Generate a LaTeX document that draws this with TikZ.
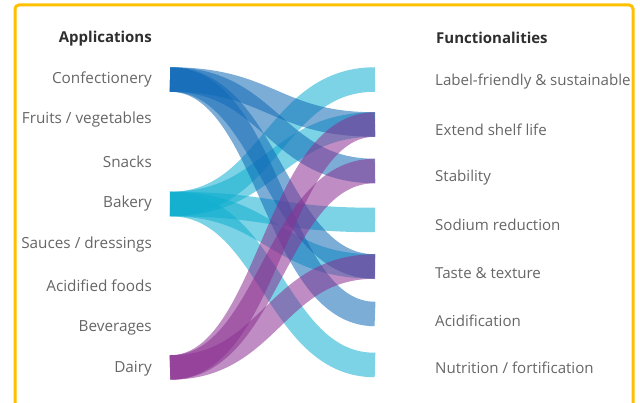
\documentclass[tikz,border=0pt]{standalone}
\usepackage{fontspec}
\setmainfont{Open Sans}
\begin{document}
\definecolor{frameyellow}{HTML}{FFC000}
\definecolor{labelgray}{HTML}{666666}
\definecolor{titlegray}{HTML}{2E2E2E}
\definecolor{confblue}{HTML}{1069B6}
\definecolor{bakecyan}{HTML}{10AECF}
\definecolor{dairypurple}{HTML}{8A3091}
\begin{tikzpicture}[x=1pt,y=-1pt,
  applabel/.style={anchor=east,text=labelgray,font=\fontsize{15.3}{17}\selectfont,inner sep=0},
  funclabel/.style={anchor=west,text=labelgray,font=\fontsize{15.1}{17}\selectfont,inner sep=0},
  headlabel/.style={text=titlegray,font=\bfseries\fontsize{15}{17}\selectfont,inner sep=0},
  endpoint/.style={inner sep=0,minimum size=0,anchor=center},
  band/.style={draw=#1,draw opacity=.55,line width=24.5pt,line cap=butt}]
\useasboundingbox (0,0) rectangle (640,403);

% frame
\draw[frameyellow,line width=3pt,rounded corners=4pt]
  (15,410) -- (15,5) -- (633,5) -- (633,410);

% column headings
\node[headlabel,anchor=east] (happ) at (152,38.5) {Applications};
\node[headlabel,anchor=west] (hfun) at (436,38)   {Functionalities};

% applications
\node[applabel] (lconf)  at (152,79)  {Confectionery};
\node[applabel] (lfruit) at (152,120) {Fruits / vegetables};
\node[applabel] (lsnack) at (152,162) {Snacks};
\node[applabel] (lbake)  at (152,204) {Bakery};
\node[applabel] (lsauce) at (152,245) {Sauces / dressings};
\node[applabel] (lacidf) at (152,286) {Acidified foods};
\node[applabel] (lbev)   at (152,328) {Beverages};
\node[applabel] (ldairy) at (152,369) {Dairy};

% functionalities
\node[funclabel] (flabel) at (435,82)  {Label-friendly \& sustainable};
\node[funclabel] (fshelf) at (435,130) {Extend shelf life};
\node[funclabel] (fstab)  at (435,178) {Stability};
\node[funclabel] (fsod)   at (435,225) {Sodium reduction};
\node[funclabel] (ftaste) at (435,273) {Taste \& texture};
\node[funclabel] (facid)  at (435,321) {Acidification};
\node[funclabel] (fnutr)  at (435,368) {Nutrition / fortification};

% band ends
\node[endpoint] (sconf)  at (170,79.5)  {};
\node[endpoint] (sbake)  at (170,204)   {};
\node[endpoint] (sdairy) at (170,367.5) {};
\node[endpoint] (dlabel) at (375,79.5)  {};
\node[endpoint] (dshelf) at (375,124.5) {};
\node[endpoint] (dstab)  at (375,171)   {};
\node[endpoint] (dsod)   at (375,220)   {};
\node[endpoint] (dtaste) at (375,266.5) {};
\node[endpoint] (dacid)  at (375,314)   {};
\node[endpoint] (dnutr)  at (375,365)   {};

\newcommand\flowband[3]{%
  \draw[band=#3] (#1.center) .. controls +(100,0) and +(-100,0) .. (#2.center);}

% bakery
\flowband{sbake}{dlabel}{bakecyan}
\flowband{sbake}{dshelf}{bakecyan}
\flowband{sbake}{dsod}{bakecyan}
\flowband{sbake}{dtaste}{bakecyan}
\flowband{sbake}{dnutr}{bakecyan}
% confectionery
\flowband{sconf}{dshelf}{confblue}
\flowband{sconf}{dstab}{confblue}
\flowband{sconf}{dtaste}{confblue}
\flowband{sconf}{dacid}{confblue}
% dairy
\flowband{sdairy}{dshelf}{dairypurple}
\flowband{sdairy}{dstab}{dairypurple}
\flowband{sdairy}{dtaste}{dairypurple}
\end{tikzpicture}
\end{document}
